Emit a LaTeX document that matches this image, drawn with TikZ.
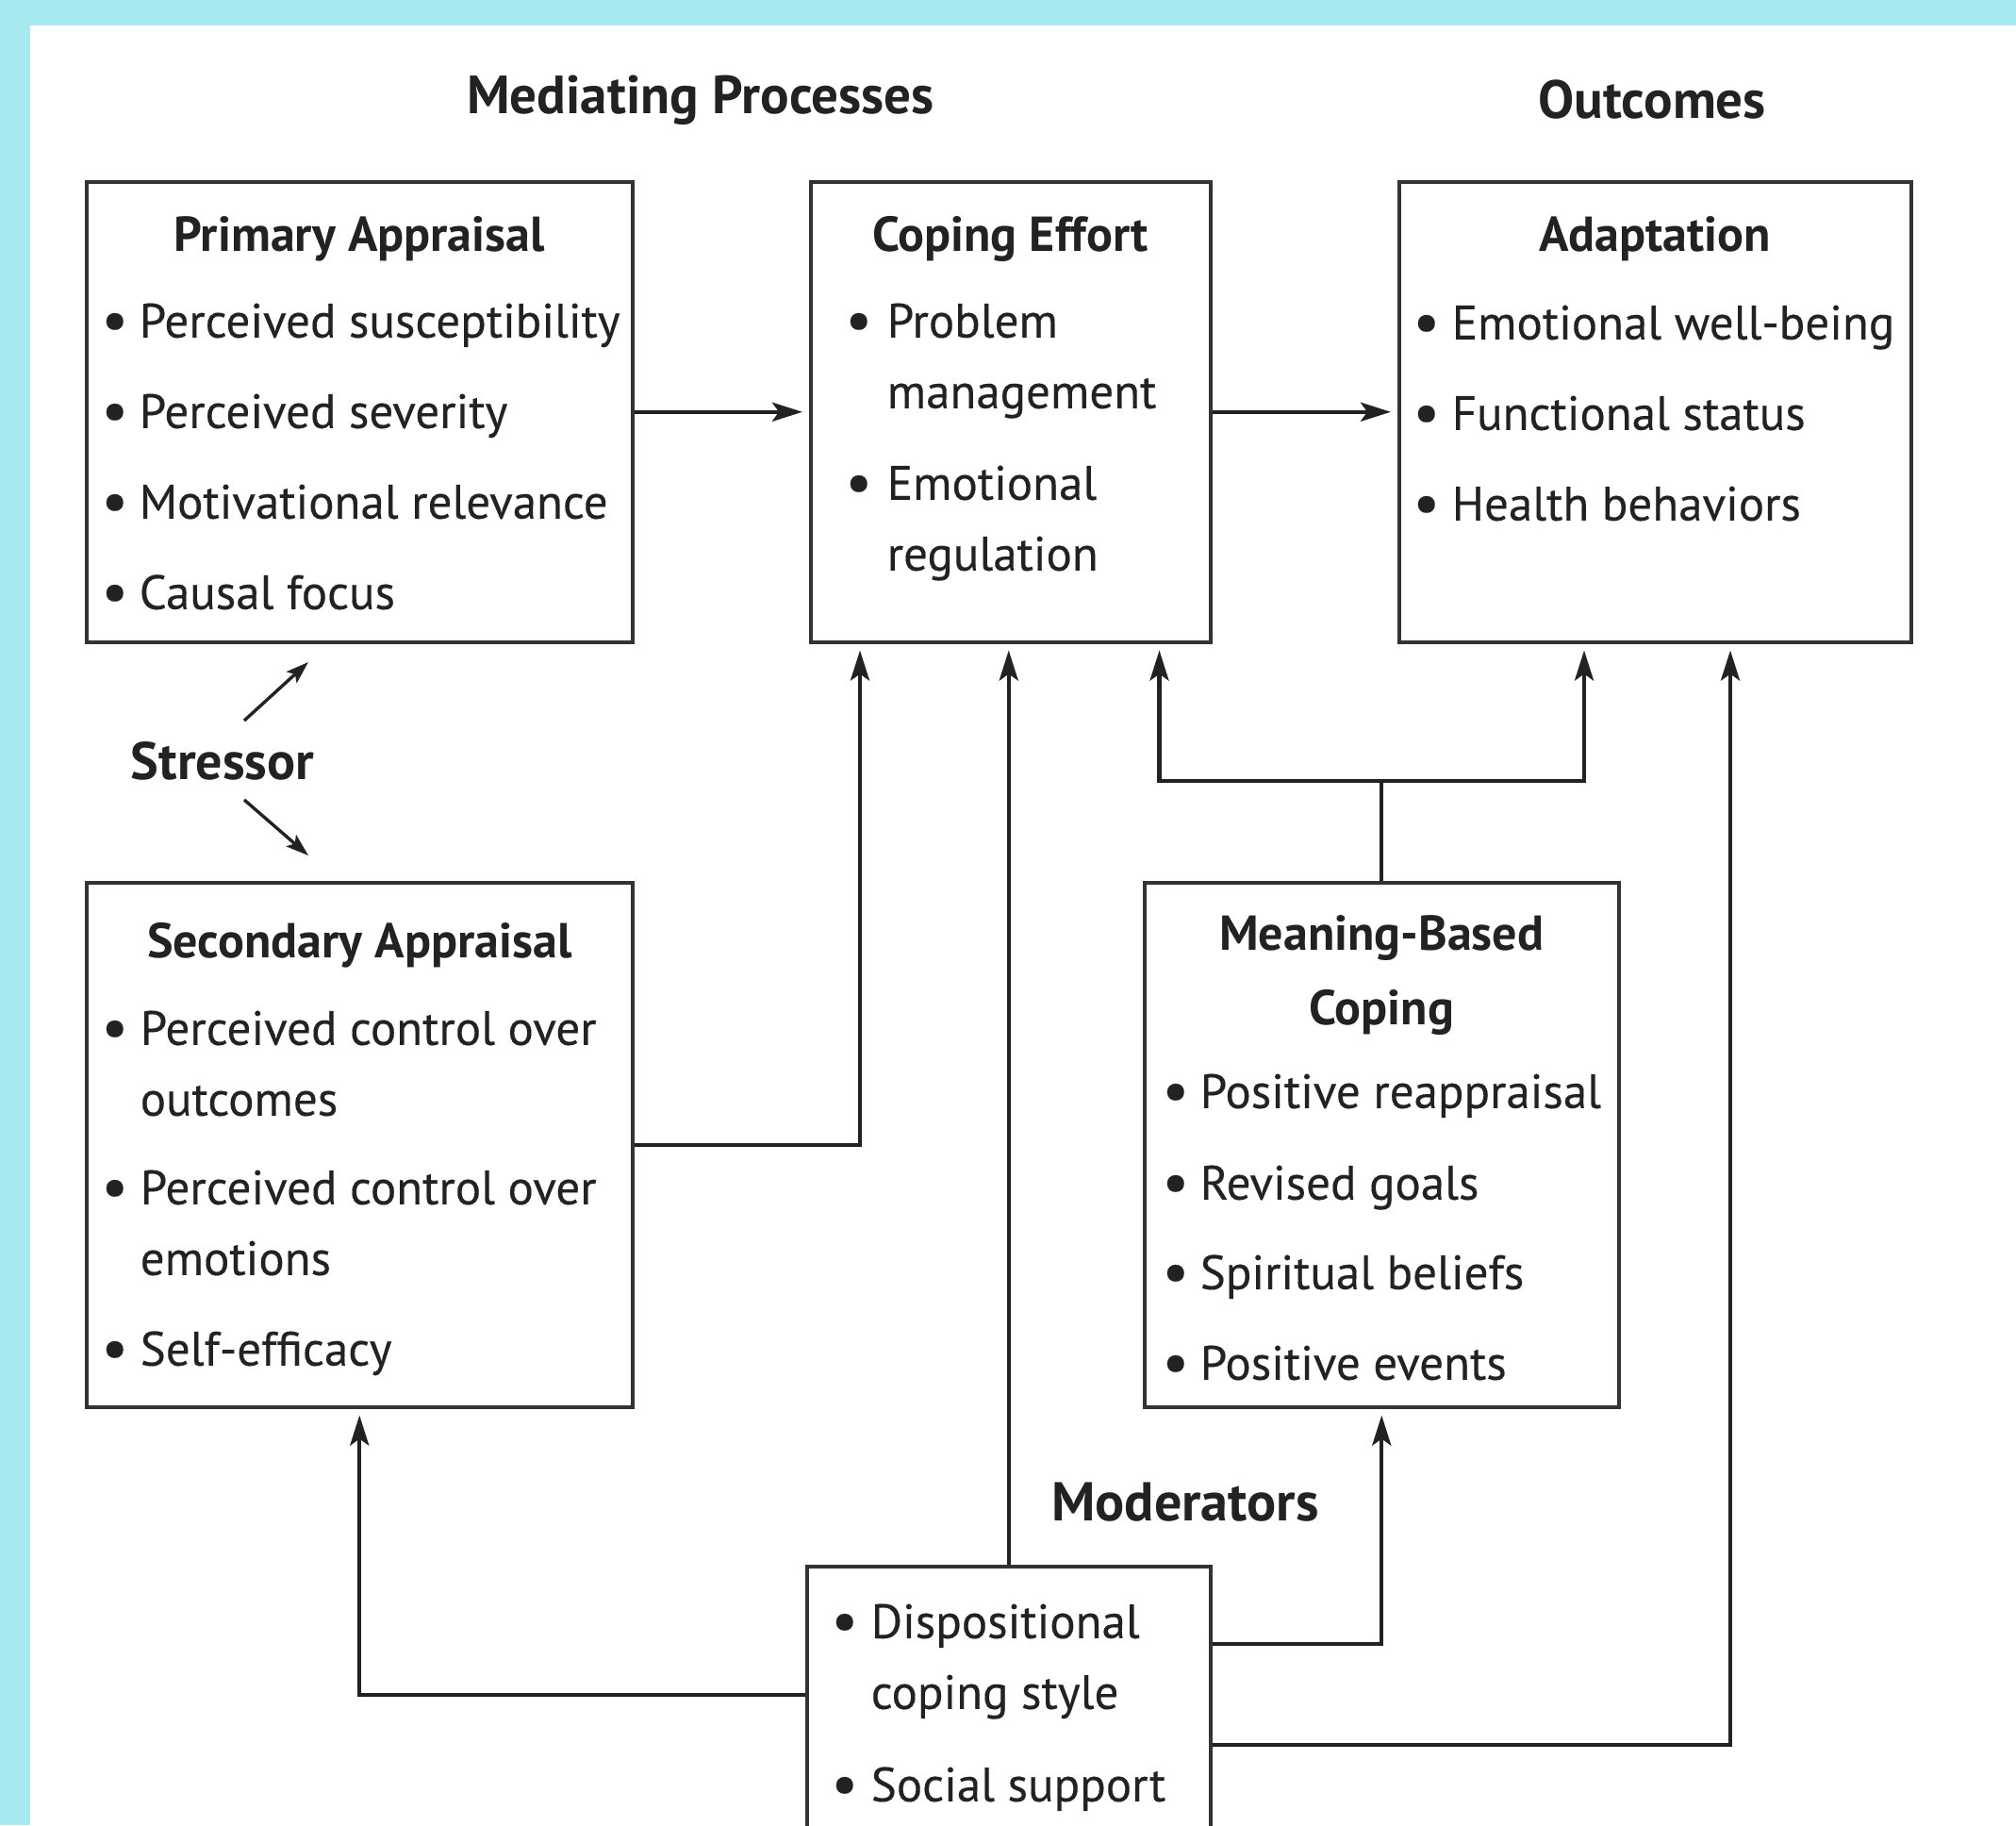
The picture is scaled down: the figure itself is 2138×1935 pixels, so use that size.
\documentclass[tikz,border=0pt]{standalone}
\usepackage{fontspec}
\setmainfont{PT Sans}[UprightFeatures={FakeBold=0.25}]
\usetikzlibrary{arrows.meta,calc}
\definecolor{framecol}{HTML}{A6E9EE}
\definecolor{ink}{HTML}{222222}
\definecolor{boxline}{HTML}{333333}
% bullet item: gap before, bullet centre, text indent, text
\newcommand\bul{\raisebox{-3pt}{\fontsize{64}{0}\selectfont\textbullet}}
\newcommand\bitem[4]{\par\vspace{#1pt}\hangindent=#3pt\hangafter=1\noindent\hbox to #3pt{\hskip#2pt\makebox[0pt]{\bul}\hss}#4}
\newcommand\brk{\hfil\break}
\newcommand\ttl[3]{{\centering\bfseries\fontsize{52}{#2}\selectfont\rule{0pt}{#1pt}#3\par}}
\newcommand\bcontent[3]{\parbox[c][#2pt][t]{#1pt}{\raggedright\fontsize{51}{75}\selectfont #3}}
\tikzset{
  box/.style={draw=boxline, line width=3.5pt, inner sep=0pt, anchor=north west, text=ink, fill=white},
  head/.style={font=\bfseries\fontsize{57}{62}\selectfont, text=ink, inner sep=0pt},
  conn/.style={draw=ink, line width=4.4pt, -{Stealth[length=32pt,width=20pt,inset=7pt]}, shorten >=7pt},
  plain/.style={draw=ink, line width=4.4pt},
  sconn/.style={draw=ink, line width=3.4pt, -{Stealth[length=24pt,width=16pt,inset=5pt]}}
}
\begin{document}
\begin{tikzpicture}[x=1pt,y=-1pt]
\clip (0,0) rectangle (2138,1935);
\fill[framecol] (0,0) rectangle (2138,1935);
\fill[white] (32,27) rectangle (2138,1935);

% headings
\node[head] (hmed) at (743,106) {Mediating Processes};
\node[head] (hout) at (1752,106) {Outcomes};
\node[head, font=\bfseries\fontsize{56}{60}\selectfont] (st) at (236,807) {Stressor};
\node[head, font=\bfseries\fontsize{58}{62}\selectfont] (hmod) at (1257,1593) {Moderators};

% boxes
\node[box] (pa) at (90,191) {\bcontent{579}{488}{%
  \ttl{74}{79}{Primary Appraisal}
  \bitem{16}{30}{56}{\mbox{Perceived susceptibility}}
  \bitem{21}{30}{56}{\mbox{Perceived severity}}
  \bitem{21}{30}{56}{\mbox{Motivational relevance}}
  \bitem{21}{30}{56}{\mbox{Causal focus}}}};

\node[box] (ce) at (858,191) {\bcontent{424}{488}{%
  \ttl{74}{79}{Coping Effort}
  \bitem{16}{51}{81}{\mbox{Problem}\brk\mbox{management}}
  \bitem{22}{51}{81}{\mbox{Emotional}\brk\mbox{regulation}}}};

\node[box] (ad) at (1482,191) {\bcontent{543}{488}{%
  \ttl{74}{79}{Adaptation}
  \bitem{18}{29}{56}{\mbox{Emotional well-being}}
  \bitem{21}{29}{56}{\mbox{Functional status}}
  \bitem{21}{29}{56}{\mbox{Health behaviors}}}};

\node[box] (sa) at (90,934) {\bcontent{579}{556}{%
  \ttl{80}{79}{Secondary Appraisal}
  \bitem{17}{30}{57}{\mbox{Perceived control over}\brk\mbox{outcomes}}
  \bitem{19}{30}{57}{\mbox{Perceived control over}\brk\mbox{emotions}}
  \bitem{21}{30}{57}{\mbox{Self-efficacy}}}};

\node[box] (mb) at (1212,934) {\bcontent{503}{556}{%
  \ttl{72}{79}{Meaning-Based\\Coping}
  \bitem{13}{33}{59}{\mbox{Positive reappraisal}}
  \bitem{22}{33}{59}{\mbox{Revised goals}}
  \bitem{20}{33}{59}{\mbox{Spiritual beliefs}}
  \bitem{21}{33}{59}{\mbox{Positive events}}}};

\node[box] (mo) at (854,1659) {\bcontent{428}{330}{%
  \bitem{0}{40}{68}{\rule{0pt}{76pt}\mbox{Dispositional}\brk\mbox{coping style}}
  \bitem{23}{40}{68}{\mbox{Social support}}}};

% connectors
\draw[conn] (pa.east) -- (ce.west);
\draw[conn] (ce.east) -- (ad.west);
\draw[conn] (sa.east) -| ($(ce.south west)+(54,0)$);
\draw[conn] (mo.north) -- (mo.north |- ce.south);
\coordinate (jn) at ($(mb.north)+(0,-106)$);
\draw[plain] (mb.north) -- (jn);
\draw[conn] (jn) -| ($(ce.south east)+(-56,0)$);
\draw[conn] (jn) -| ($(ad.south west)+(198,0)$);
\draw[conn] ($(mo.north east)+(0,84)$) -| (mb.south);
\draw[conn] ($(mo.north east)+(0,191)$) -| ($(ad.south west)+(353,0)$);
\draw[conn] ($(mo.north west)+(0,138)$) -| (sa.south);

% stressor arrows
\draw[sconn] ($(st)+(23,-43)$) -- ($(st)+(91,-105)$);
\draw[sconn] ($(st)+(23,41)$) -- ($(st)+(91,100)$);
\end{tikzpicture}
\end{document}
